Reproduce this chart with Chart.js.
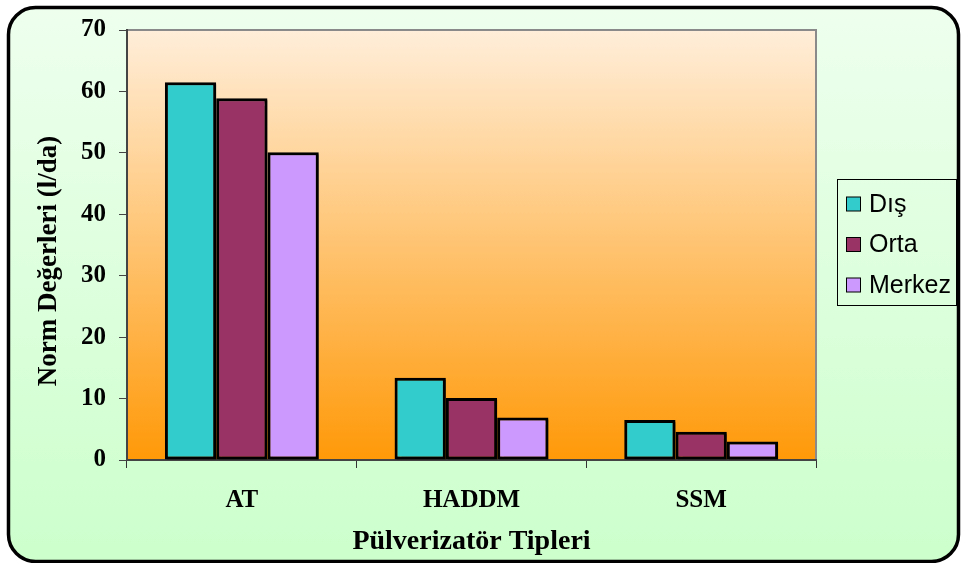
<!DOCTYPE html>
<html>
<head>
<meta charset="utf-8">
<script src="https://cdn.jsdelivr.net/npm/chart.js@4.4.1/dist/chart.umd.min.js"></script>
<style>
html,body{margin:0;padding:0;background:#fff;}
#wrap{width:962px;height:563px;position:relative;}
</style>
</head>
<body>
<div id="wrap"><canvas id="c" width="962" height="563"></canvas></div>
<script>
const categories = ['AT', 'HADDM', 'SSM'];
const seriesNames = ['Dış', 'Orta', 'Merkez'];
const disValues = [61.5, 13.4, 6.5];
const ortaValues = [58.9, 10.1, 4.6];
const merkezValues = [50.1, 6.9, 3.0];
const seriesColors = ['#33CCCC', '#993366', '#CC99FF'];
const yTicks = [0, 10, 20, 30, 40, 50, 60, 70];
const yTitle = 'Norm Değerleri (l/da)';
const xTitle = 'Pülverizatör Tipleri';

const serif = "'Liberation Serif', 'Times New Roman', serif";
const sans = "'Liberation Sans', Arial, sans-serif";

const bgPlugin = {
  id: 'bgPlugin',
  beforeDraw(chart) {
    const ctx = chart.ctx;
    const W = chart.width, H = chart.height;
    ctx.save();
    ctx.fillStyle = '#ffffff';
    ctx.fillRect(0, 0, W, H);
    const x = 8.5, y = 7.5, w = 950, h = 554, r = 27;
    ctx.beginPath();
    ctx.moveTo(x + r, y);
    ctx.lineTo(x + w - r, y);
    ctx.arcTo(x + w, y, x + w, y + r, r);
    ctx.lineTo(x + w, y + h - r);
    ctx.arcTo(x + w, y + h, x + w - r, y + h, r);
    ctx.lineTo(x + r, y + h);
    ctx.arcTo(x, y + h, x, y + h - r, r);
    ctx.lineTo(x, y + r);
    ctx.arcTo(x, y, x + r, y, r);
    ctx.closePath();
    const g = ctx.createLinearGradient(0, y, 0, y + h);
    g.addColorStop(0, '#EEFFEE');
    g.addColorStop(1, '#CCFFCC');
    ctx.fillStyle = g;
    ctx.fill();
    ctx.lineWidth = 3.5;
    ctx.strokeStyle = '#000';
    ctx.stroke();
    // plot area
    const a = chart.chartArea;
    const pg = ctx.createLinearGradient(0, a.top, 0, a.bottom);
    pg.addColorStop(0, '#FFEEDA');
    pg.addColorStop(1, '#FF9908');
    ctx.fillStyle = pg;
    ctx.fillRect(a.left, a.top, a.right - a.left, a.bottom - a.top);
    ctx.strokeStyle = '#8a8a8a';
    ctx.lineWidth = 2;
    ctx.beginPath();
    ctx.moveTo(a.left, a.top);
    ctx.lineTo(a.right, a.top);
    ctx.lineTo(a.right, a.bottom);
    ctx.stroke();
    ctx.restore();
  },
  beforeDatasetsDraw(chart) {
    const ctx = chart.ctx;
    ctx.save();
    ctx.shadowColor = 'rgba(0,0,0,0.45)';
    ctx.shadowOffsetX = 2;
    ctx.shadowOffsetY = 2;
    ctx.shadowBlur = 1;
  },
  afterDatasetsDraw(chart) {
    chart.ctx.restore();
  },
  afterDraw(chart) {
    const ctx = chart.ctx;
    ctx.save();
    // y axis title
    ctx.translate(49, 261);
    ctx.rotate(-Math.PI / 2);
    ctx.font = 'bold 27px ' + serif;
    ctx.fillStyle = '#000';
    ctx.textAlign = 'center';
    ctx.textBaseline = 'middle';
    ctx.fillText(yTitle, 0, 0);
    ctx.restore();
    // legend
    ctx.save();
    const bx = 837.5, by = 179.5, bw = 119, bh = 126;
    ctx.strokeStyle = '#000';
    ctx.lineWidth = 1;
    ctx.strokeRect(bx, by, bw, bh);
    ctx.font = '25px ' + sans;
    ctx.textBaseline = 'middle';
    ctx.textAlign = 'left';
    chart.data.datasets.forEach((ds, i) => {
      const cy = 204 + i * 40.5;
      ctx.fillStyle = ds.backgroundColor;
      ctx.fillRect(846.5, cy - 7, 14, 14);
      ctx.strokeStyle = '#000';
      ctx.lineWidth = 1;
      ctx.strokeRect(846.5, cy - 7, 14, 14);
      ctx.fillStyle = '#000';
      ctx.fillText(ds.label, 869, cy + 1);
    });
    ctx.restore();
  }
};

const valueArrays = [disValues, ortaValues, merkezValues];

new Chart(document.getElementById('c'), {
  type: 'bar',
  data: {
    labels: categories,
    datasets: seriesNames.map((n, i) => ({
      label: n,
      data: valueArrays[i],
      backgroundColor: seriesColors[i],
      borderColor: '#000',
      borderWidth: 3,
      borderSkipped: false,
      categoryPercentage: 0.67,
      barPercentage: 1.0
    }))
  },
  plugins: [bgPlugin],
  options: {
    responsive: false,
    animation: false,
    devicePixelRatio: 1,
    layout: { padding: { top: 30, right: 146, left: 0, bottom: 0 } },
    plugins: {
      legend: { display: false },
      tooltip: { enabled: false }
    },
    scales: {
      x: {
        grid: { display: true, drawOnChartArea: false, drawTicks: true, tickLength: 8, color: '#333', offset: true },
        border: { display: true, color: '#444', width: 2 },
        ticks: { color: '#000', font: { family: serif, size: 25, weight: 'bold' }, padding: 18 },
        title: { display: true, text: xTitle, color: '#000', font: { family: serif, size: 28, weight: 'bold' }, padding: { top: 0, bottom: 4 } },
        afterFit(s) { s.height = 563 - 460; }
      },
      y: {
        min: 0, max: 70,
        afterBuildTicks(s) { s.ticks = yTicks.map(v => ({ value: v })); },
        grid: { display: true, drawOnChartArea: false, drawTicks: true, tickLength: 8, color: '#444' },
        border: { display: true, color: '#444', width: 2 },
        ticks: { color: '#000', font: { family: serif, size: 25, weight: 'bold' }, padding: 13 },
        title: { display: false },
        afterFit(s) { s.width = 127; }
      }
    }
  }
});
</script>
</body>
</html>
